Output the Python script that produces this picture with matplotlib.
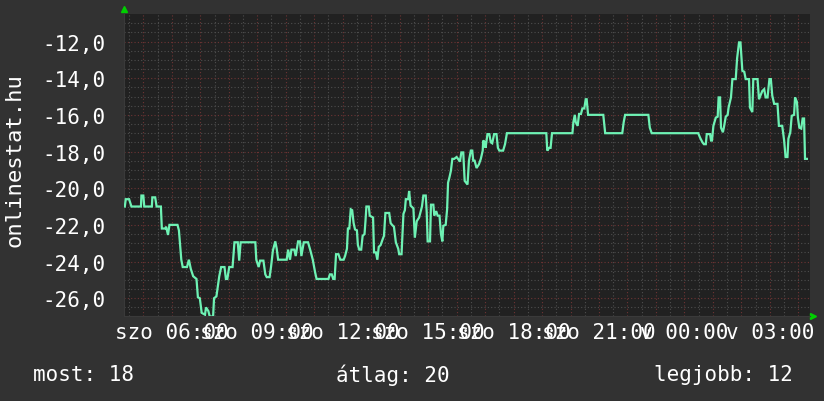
import matplotlib
matplotlib.use("Agg")
import matplotlib.pyplot as plt
import numpy as np

# minutes since saturday 00:00
t_min = [261, 263, 270, 275, 295, 296, 300, 302, 318, 319, 325, 328, 337, 339, 346, 348, 352, 355, 372, 375,
         380, 383, 392, 396, 400, 405, 412, 415, 419, 423, 430, 432, 437, 440, 447, 449, 454, 460, 464, 471,
         474, 477, 481, 488, 492, 499, 502, 505, 536, 538, 543, 546, 553, 557, 560, 566, 569, 573, 578, 581,
         584, 602, 605, 609, 612, 618, 621, 626, 630, 633, 638, 647, 652, 657, 662, 665, 690, 693, 697, 700,
         703, 706, 711, 715, 722, 725, 729, 731, 734, 737, 740, 743, 746, 750, 752, 755, 759, 762, 766, 768,
         770, 775, 777, 784, 786, 790, 793, 796, 800, 804, 807, 810, 818, 821, 824, 828, 832, 837, 839, 844,
         848, 851, 853, 858, 860, 863, 869, 872, 876, 881, 887, 890, 895, 897, 899, 904, 906, 911, 913, 917,
         920, 924, 927, 930, 932, 937, 940, 942, 945, 948, 951, 955, 960, 963, 967, 970, 974, 977, 983, 986,
         990, 993, 995, 998, 1002, 1007, 1011, 1015, 1016, 1020, 1021, 1025, 1029, 1032, 1035, 1039, 1044, 1047, 1050, 1058,
         1062, 1066, 1149, 1151, 1155, 1158, 1161, 1204, 1206, 1209, 1211, 1215, 1218, 1222, 1225, 1229, 1232, 1234,
         1237, 1269, 1273, 1309, 1312, 1315, 1364, 1367, 1371, 1469, 1473, 1478, 1481, 1485, 1487, 1494, 1496, 1498,
         1501, 1506, 1510, 1512, 1515, 1517, 1521, 1523, 1527, 1531, 1533, 1538, 1541, 1548, 1551, 1555, 1558, 1560,
         1562, 1566, 1569, 1576, 1578, 1583, 1585, 1594, 1597, 1601, 1604, 1608, 1611, 1615, 1619, 1622, 1625, 1629,
         1636, 1639, 1646, 1650, 1653, 1657, 1659, 1663, 1666, 1671, 1673, 1677, 1679, 1682, 1686, 1689, 1692, 1694,
         1698]
val = [-21, -20.6, -20.6, -21, -21, -20.4, -20.4, -21, -21, -20.5, -20.5, -21, -21, -22.2, -22.2, -22.1, -22.55, -22, -22, -22.3,
       -23.9, -24.3, -24.3, -23.9, -24.4, -24.8, -24.95, -25.95, -26, -26.8, -26.9, -26.5, -26.7, -27, -27, -26, -25.9, -24.8, -24.3, -24.3,
       -24.95, -24.95, -24.3, -24.3, -22.95, -22.95, -23.95, -22.95, -22.95, -23.9, -24.3, -23.95, -23.95, -24.7, -24.85, -24.85, -24.3, -23.4, -22.9, -23.3,
       -23.9, -23.9, -23.35, -23.9, -23.35, -23.35, -23.7, -22.9, -22.9, -23.7, -22.95, -22.95, -23.4, -23.9, -24.6, -24.95, -24.95, -24.7, -24.7, -24.95,
       -24.95, -23.6, -23.6, -23.9, -23.9, -23.7, -23.3, -22.2, -22.2, -21.15, -21.2, -21.9, -22.25, -22.3, -23.1, -23.35, -23.35, -22.6, -22.5, -21.8,
       -21, -21, -21.5, -21.6, -23.5, -23.5, -23.9, -23.2, -23.1, -22.8, -22.6, -21.35, -21.35, -21.9, -22, -22.1, -22.95, -23.3, -23.6, -23.6,
       -21.4, -21.2, -20.6, -20.6, -20.15, -20.95, -21.1, -22.7, -21.8, -21.6, -21, -20.4, -20.4, -21.3, -22.9, -22.9, -20.9, -20.9, -21.5, -21.25,
       -21.5, -21.5, -22.5, -22.9, -22.05, -22, -21.15, -19.7, -19.4, -19.05, -18.4, -18.4, -18.3, -18.4, -18.55, -18.05, -18.05, -19.6, -19.8, -18.5,
       -17.95, -17.95, -18.5, -18.5, -18.9, -18.7, -18.4, -17.95, -17.4, -17.5, -17.8, -17.05, -17.05, -17.5, -17.55, -17.05, -17.05, -17.8, -17.95, -17.95,
       -17.6, -17, -17, -17.95, -17.8, -17.8, -17, -17, -16.4, -16, -16.4, -16.6, -15.95, -15.95, -15.65, -15.65, -15.15, -15.15,
       -16, -16, -17, -17, -16.4, -16, -16, -16.7, -17, -17, -17.25, -17.5, -17.6, -17.6, -17.05, -17.05, -17.4, -17.4,
       -16.6, -16.15, -16.1, -15.05, -15.05, -16.7, -16.95, -16.7, -16.1, -16.0, -15.6, -15.05, -14.05, -14.05, -12.9, -12.05, -12.05, -12.8,
       -13.6, -13.65, -14.05, -14.05, -15.6, -15.85, -14.05, -14.05, -15.15, -14.9, -14.7, -14.6, -15.05, -15.05, -14.05, -14.05, -14.95, -15.4,
       -15.4, -16.6, -16.6, -17.4, -18.3, -18.3, -17.3, -16.95, -16.05, -16, -15.05, -15.3, -16.15, -16.7, -16.75, -16.2, -16.2, -18.4,
       -18.4]

x_ticks = [360, 540, 720, 900, 1080, 1260, 1440, 1620]
x_labels = ["szo 06:00", "szo 09:00", "szo 12:00", "szo 15:00", "szo 18:00", "szo 21:00", "v 00:00", "v 03:00"]
y_ticks = [-12, -14, -16, -18, -20, -22, -24, -26]
stats = ["most: 18", "átlag: 20", "legjobb: 12"]

BG = "#323232"
PLOT_BG = "#212121"
MINOR = "#4e4e4e"
MAJOR = "#6e3434"
FONT = "DejaVu Sans Mono"

fig = plt.figure(figsize=(8.24, 4.02), dpi=100, facecolor=BG)
ax = fig.add_axes([124/824, 1-317/402, 686/824, 302/402])
ax.set_facecolor(PLOT_BG)
ax.set_xlim(259.3, 1704.5)
ax.set_ylim(-26.97, -10.5)

# grid: half-hour/half-unit gray dots, hour/2-unit red dots
for m in range(270, 1705, 30):
    c = MAJOR if m % 60 == 0 else MINOR
    ax.axvline(m, color=c, lw=0.8, ls=(0, (1, 2)), zorder=1)
for v in np.arange(-26.5, -10.5, 0.5):
    c = MAJOR if v % 2 == 0 else MINOR
    ax.axhline(v, color=c, lw=0.8, ls=(0, (1, 2)), zorder=1)

ax.plot(t_min, val, color="#6ef2b4", lw=1.6, zorder=3, solid_joinstyle="miter")

ax.set_xticks(x_ticks)
ax.set_xticklabels(x_labels, fontfamily=FONT, fontsize=15, color="white")
ax.set_yticks(y_ticks)
ax.set_yticklabels([f"{v:.1f}".replace(".", ",") for v in y_ticks], fontfamily=FONT, fontsize=15, color="white")
ax.tick_params(axis="x", length=0, pad=4)
ax.tick_params(axis="y", length=0, pad=13)
for s in ax.spines.values():
    s.set_visible(False)
ax.spines["left"].set_visible(True)
ax.spines["left"].set_color("#3a3a3a")
ax.spines["bottom"].set_visible(True)
ax.spines["bottom"].set_color("#3a3a3a")

# green arrow heads at the axis ends
ax.plot([0], [1.017], marker="^", color="#00d000", ms=5, transform=ax.transAxes, clip_on=False)
ax.plot([1.005], [0.0], marker=">", color="#00d000", ms=5, transform=ax.transAxes, clip_on=False)

fig.text(15/824, 1-160/402, "onlinestat.hu", rotation=90, ha="center", va="center",
         fontfamily=FONT, fontsize=16, color="white")

fig.text(33/824, 1-375/402, stats[0], ha="left", va="center", fontfamily=FONT, fontsize=15, color="white")
fig.text(393/824, 1-375/402, stats[1], ha="center", va="center", fontfamily=FONT, fontsize=15, color="white")
fig.text(793/824, 1-375/402, stats[2], ha="right", va="center", fontfamily=FONT, fontsize=15, color="white")

fig.savefig("out.png", dpi=100, facecolor=BG)
